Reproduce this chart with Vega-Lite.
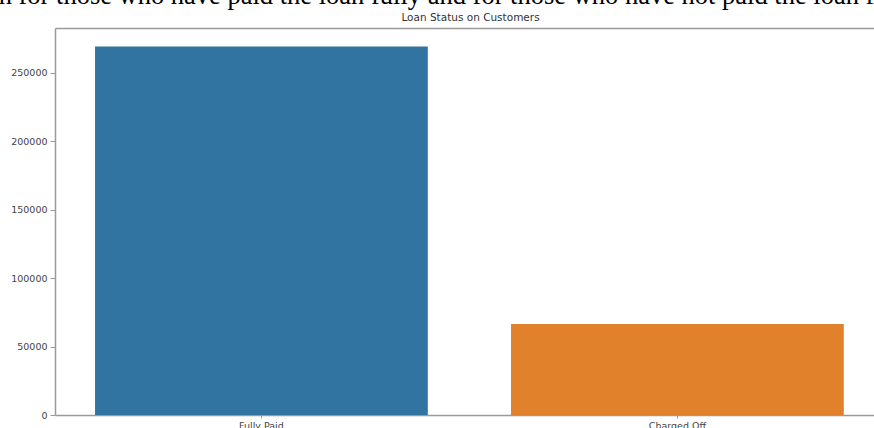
{
  "$schema": "https://vega.github.io/schema/vega-lite/v6.json",
  "width": 819,
  "height": 387,
  "autosize": {"type": "none"},
  "padding": {"left": 55, "top": 28, "right": 0, "bottom": 13},
  "background": "white",
  "config": {"view": {"stroke": null}, "font": "DejaVu Sans"},
  "title": {
    "text": "n for those who have paid the loan fully and for those who have not paid the loan f",
    "font": "Liberation Serif",
    "fontSize": 26.5,
    "fontWeight": "normal",
    "color": "#000000",
    "anchor": "middle",
    "frame": "group",
    "offset": 3,
    "dx": -28
  },
  "data": {
    "values": [
      {"loan_status": "Fully Paid", "count": 269300},
      {"loan_status": "Charged Off", "count": 66500}
    ]
  },
  "resolve": {"axis": {"x": "independent"}},
  "layer": [
    {
      "mark": {"type": "bar"},
      "encoding": {
        "x": {
          "field": "loan_status",
          "type": "nominal",
          "sort": ["Fully Paid", "Charged Off"],
          "scale": {"paddingInner": 0.2, "paddingOuter": 0.0844, "align": 0.57},
          "axis": {
            "title": null,
            "labelAngle": 0,
            "labelFont": "DejaVu Sans",
            "labelFontSize": 9.5,
            "labelColor": "#444444",
            "labelPadding": 2,
            "tickSize": 3,
            "tickColor": "#9a9a9a",
            "domainColor": "#9a9a9a",
            "domainWidth": 1.5
          }
        },
        "y": {
          "field": "count",
          "type": "quantitative",
          "scale": {"domain": [0, 282800], "nice": false},
          "axis": {
            "title": null,
            "grid": false,
            "values": [0, 50000, 100000, 150000, 200000, 250000],
            "format": "d",
            "labelFont": "DejaVu Sans",
            "labelFontSize": 9.5,
            "labelColor": "#444444",
            "labelPadding": 3,
            "tickSize": 5,
            "tickColor": "#9a9a9a",
            "domainColor": "#9a9a9a",
            "domainWidth": 1.5
          }
        },
        "color": {
          "field": "loan_status",
          "type": "nominal",
          "scale": {"domain": ["Fully Paid", "Charged Off"], "range": ["#3274a1", "#e1812c"]},
          "legend": null
        }
      }
    },
    {
      "mark": {"type": "bar", "opacity": 0},
      "encoding": {
        "x": {
          "field": "loan_status",
          "type": "nominal",
          "sort": ["Fully Paid", "Charged Off"],
          "axis": {
            "orient": "top",
            "title": "Loan Status on Customers",
            "titleFont": "DejaVu Sans",
            "titleFontSize": 10.5,
            "titleFontWeight": "normal",
            "titleColor": "#333333",
            "titlePadding": 6,
            "titleX": 415,
            "labels": false,
            "ticks": false,
            "domainColor": "#9a9a9a",
            "domainWidth": 1.5
          }
        },
        "y": {"field": "count", "type": "quantitative"}
      }
    }
  ]
}
